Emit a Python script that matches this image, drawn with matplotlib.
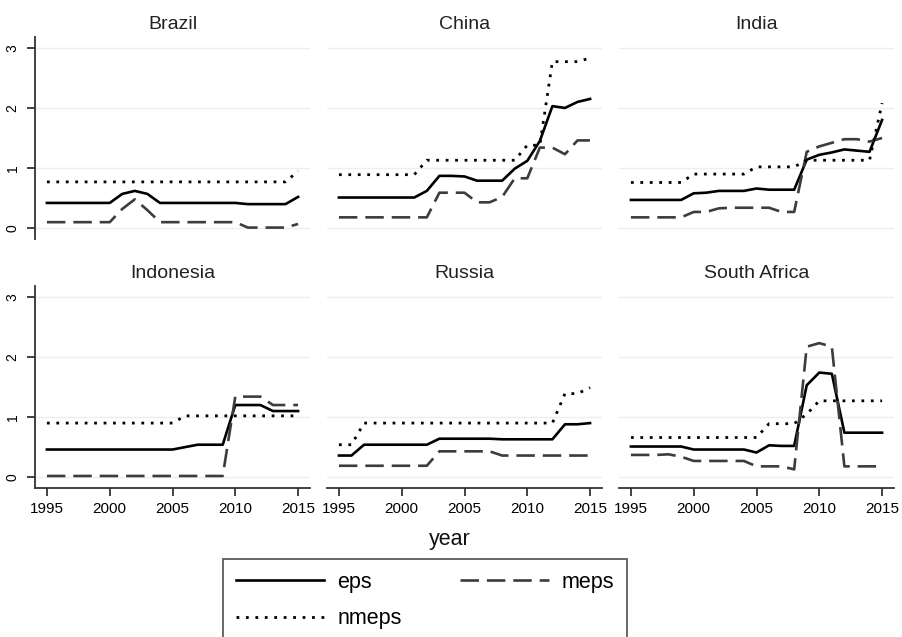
import matplotlib
matplotlib.use("Agg")
import matplotlib.pyplot as plt
import numpy as np

plt.rcParams['font.family'] = ['Liberation Sans', 'DejaVu Sans']

years = list(range(1995, 2016))
countries = ["Brazil", "China", "India", "Indonesia", "Russia", "South Africa"]

# eps, meps, nmeps per country (1995..2015)
brazil_eps   = [0.42, 0.42, 0.42, 0.42, 0.42, 0.42, 0.57, 0.62, 0.57, 0.42, 0.42, 0.42, 0.42, 0.42, 0.42, 0.42, 0.40, 0.40, 0.40, 0.40, 0.52]
brazil_meps  = [0.10, 0.10, 0.10, 0.10, 0.10, 0.10, 0.32, 0.48, 0.30, 0.10, 0.10, 0.10, 0.10, 0.10, 0.10, 0.10, 0.01, 0.01, 0.01, 0.01, 0.07]
brazil_nmeps = [0.77, 0.77, 0.77, 0.77, 0.77, 0.77, 0.77, 0.77, 0.77, 0.77, 0.77, 0.77, 0.77, 0.77, 0.77, 0.77, 0.77, 0.77, 0.77, 0.77, 0.95]

china_eps   = [0.51, 0.51, 0.51, 0.51, 0.51, 0.51, 0.51, 0.62, 0.87, 0.87, 0.86, 0.79, 0.79, 0.79, 0.99, 1.12, 1.45, 2.03, 2.00, 2.10, 2.15]
china_meps  = [0.18, 0.18, 0.18, 0.18, 0.18, 0.18, 0.18, 0.18, 0.59, 0.59, 0.59, 0.43, 0.43, 0.52, 0.83, 0.83, 1.34, 1.34, 1.23, 1.46, 1.46]
china_nmeps = [0.89, 0.89, 0.89, 0.89, 0.89, 0.89, 0.89, 1.13, 1.13, 1.13, 1.13, 1.13, 1.13, 1.13, 1.13, 1.38, 1.38, 2.77, 2.77, 2.77, 2.83]

india_eps   = [0.47, 0.47, 0.47, 0.47, 0.47, 0.58, 0.59, 0.62, 0.62, 0.62, 0.66, 0.64, 0.64, 0.64, 1.14, 1.22, 1.26, 1.31, 1.29, 1.27, 1.80]
india_meps  = [0.18, 0.18, 0.18, 0.18, 0.18, 0.27, 0.27, 0.33, 0.34, 0.34, 0.34, 0.34, 0.27, 0.27, 1.27, 1.36, 1.42, 1.48, 1.48, 1.44, 1.50]
india_nmeps = [0.76, 0.76, 0.76, 0.76, 0.76, 0.90, 0.90, 0.90, 0.90, 0.90, 1.02, 1.02, 1.02, 1.02, 1.13, 1.13, 1.13, 1.13, 1.13, 1.13, 2.08]

indonesia_eps   = [0.46, 0.46, 0.46, 0.46, 0.46, 0.46, 0.46, 0.46, 0.46, 0.46, 0.46, 0.50, 0.54, 0.54, 0.54, 1.20, 1.20, 1.20, 1.10, 1.10, 1.10]
indonesia_meps  = [0.02, 0.02, 0.02, 0.02, 0.02, 0.02, 0.02, 0.02, 0.02, 0.02, 0.02, 0.02, 0.02, 0.02, 0.02, 1.34, 1.34, 1.34, 1.20, 1.20, 1.20]
indonesia_nmeps = [0.90, 0.90, 0.90, 0.90, 0.90, 0.90, 0.90, 0.90, 0.90, 0.90, 0.90, 1.02, 1.02, 1.02, 1.02, 1.02, 1.02, 1.02, 1.02, 1.02, 1.02]

russia_eps   = [0.36, 0.36, 0.54, 0.54, 0.54, 0.54, 0.54, 0.54, 0.64, 0.64, 0.64, 0.64, 0.64, 0.63, 0.63, 0.63, 0.63, 0.63, 0.88, 0.88, 0.90]
russia_meps  = [0.19, 0.19, 0.19, 0.19, 0.19, 0.19, 0.19, 0.19, 0.43, 0.43, 0.43, 0.43, 0.43, 0.36, 0.36, 0.36, 0.36, 0.36, 0.36, 0.36, 0.36]
russia_nmeps = [0.54, 0.54, 0.90, 0.90, 0.90, 0.90, 0.90, 0.90, 0.90, 0.90, 0.90, 0.90, 0.90, 0.90, 0.90, 0.90, 0.90, 0.90, 1.39, 1.39, 1.49]

safrica_eps   = [0.51, 0.51, 0.51, 0.51, 0.51, 0.46, 0.46, 0.46, 0.46, 0.46, 0.41, 0.53, 0.52, 0.52, 1.53, 1.74, 1.72, 0.74, 0.74, 0.74, 0.74]
safrica_meps  = [0.37, 0.37, 0.37, 0.38, 0.34, 0.27, 0.27, 0.27, 0.27, 0.27, 0.18, 0.18, 0.18, 0.13, 2.17, 2.23, 2.17, 0.18, 0.18, 0.18, 0.18]
safrica_nmeps = [0.66, 0.66, 0.66, 0.66, 0.66, 0.66, 0.66, 0.66, 0.66, 0.66, 0.66, 0.89, 0.89, 0.89, 1.05, 1.27, 1.27, 1.27, 1.27, 1.27, 1.27]

data = {
    "Brazil": (brazil_eps, brazil_meps, brazil_nmeps),
    "China": (china_eps, china_meps, china_nmeps),
    "India": (india_eps, india_meps, india_nmeps),
    "Indonesia": (indonesia_eps, indonesia_meps, indonesia_nmeps),
    "Russia": (russia_eps, russia_meps, russia_nmeps),
    "South Africa": (safrica_eps, safrica_meps, safrica_nmeps),
}
series_names = ["eps", "meps", "nmeps"]
xticks = [1995, 2000, 2005, 2010, 2015]
yticks = [0, 1, 2, 3]

W, H = 903, 637
fig = plt.figure(figsize=(W / 100, H / 100), dpi=100)

col_left = [35, 327, 619]
row_top = [37, 286]
aw, ah = 275, 202

styles = {
    "eps": dict(color="black", linestyle="-", linewidth=1.9),
    "meps": dict(color="#3c3c3c", linestyle=(0, (7, 3)), linewidth=1.9),
    "nmeps": dict(color="black", linestyle=(0, (1, 2.4)), linewidth=2.0),
}

handles = {}
axis_color = "#333333"
for i, c in enumerate(countries):
    r, col = divmod(i, 3)
    ax = fig.add_axes([col_left[col] / W, 1 - (row_top[r] + ah) / H, aw / W, ah / H])
    ax.set_xlim(1994.05, 2015.95)
    ax.set_ylim(-0.18, 3.18)
    for yv in yticks:
        ax.axhline(yv, color="#e8f0f2", linewidth=1.0, zorder=0)
    for name, vals in zip(series_names, data[c]):
        ln, = ax.plot(years, vals, label=name, **styles[name])
        handles[name] = ln
    ax.set_title(c, fontsize=14, color="#222222", pad=6)
    for s in ["top", "right"]:
        ax.spines[s].set_visible(False)
    ax.spines["left"].set_color(axis_color)
    ax.spines["bottom"].set_color(axis_color)
    ax.spines["left"].set_linewidth(1.3)
    ax.spines["bottom"].set_linewidth(1.3)
    ax.set_yticks(yticks)
    ax.set_xticks(xticks)
    if col == 0:
        ax.tick_params(axis="y", length=6, width=1.3, color=axis_color, labelsize=10, pad=5)
        ax.set_yticklabels([str(v) for v in yticks], rotation=90, va="center")
    else:
        ax.spines["left"].set_visible(False)
        ax.tick_params(axis="y", left=False, labelleft=False)
    if r == 1:
        ax.tick_params(axis="x", length=6, width=1.3, color=axis_color, labelsize=11, pad=4)
        ax.set_xticklabels([str(v) for v in xticks])
    else:
        ax.spines["bottom"].set_visible(False)
        ax.tick_params(axis="x", bottom=False, labelbottom=False)
    ax.set_facecolor("none")

fig.text(450 / W, 1 - 540 / H, "year", fontsize=15.5, ha="center", va="center", color="#111111")

# column-major fill: col1 = eps, nmeps ; col2 = meps
leg = fig.legend([handles["eps"], handles["nmeps"], handles["meps"]],
                 ["eps", "nmeps", "meps"], ncol=2, loc="upper left",
                 bbox_to_anchor=(223 / W, 1 - 559 / H - 0.01, 404 / W, 0.01),
                 mode="expand", fontsize=15.5,
                 frameon=True, fancybox=False, handlelength=4.1, handletextpad=0.6,
                 columnspacing=2.2, borderpad=0.6, labelspacing=0.72, borderaxespad=0)
leg.get_frame().set_edgecolor("#333333")
leg.get_frame().set_linewidth(1.3)

fig.savefig("out.png", dpi=100)
